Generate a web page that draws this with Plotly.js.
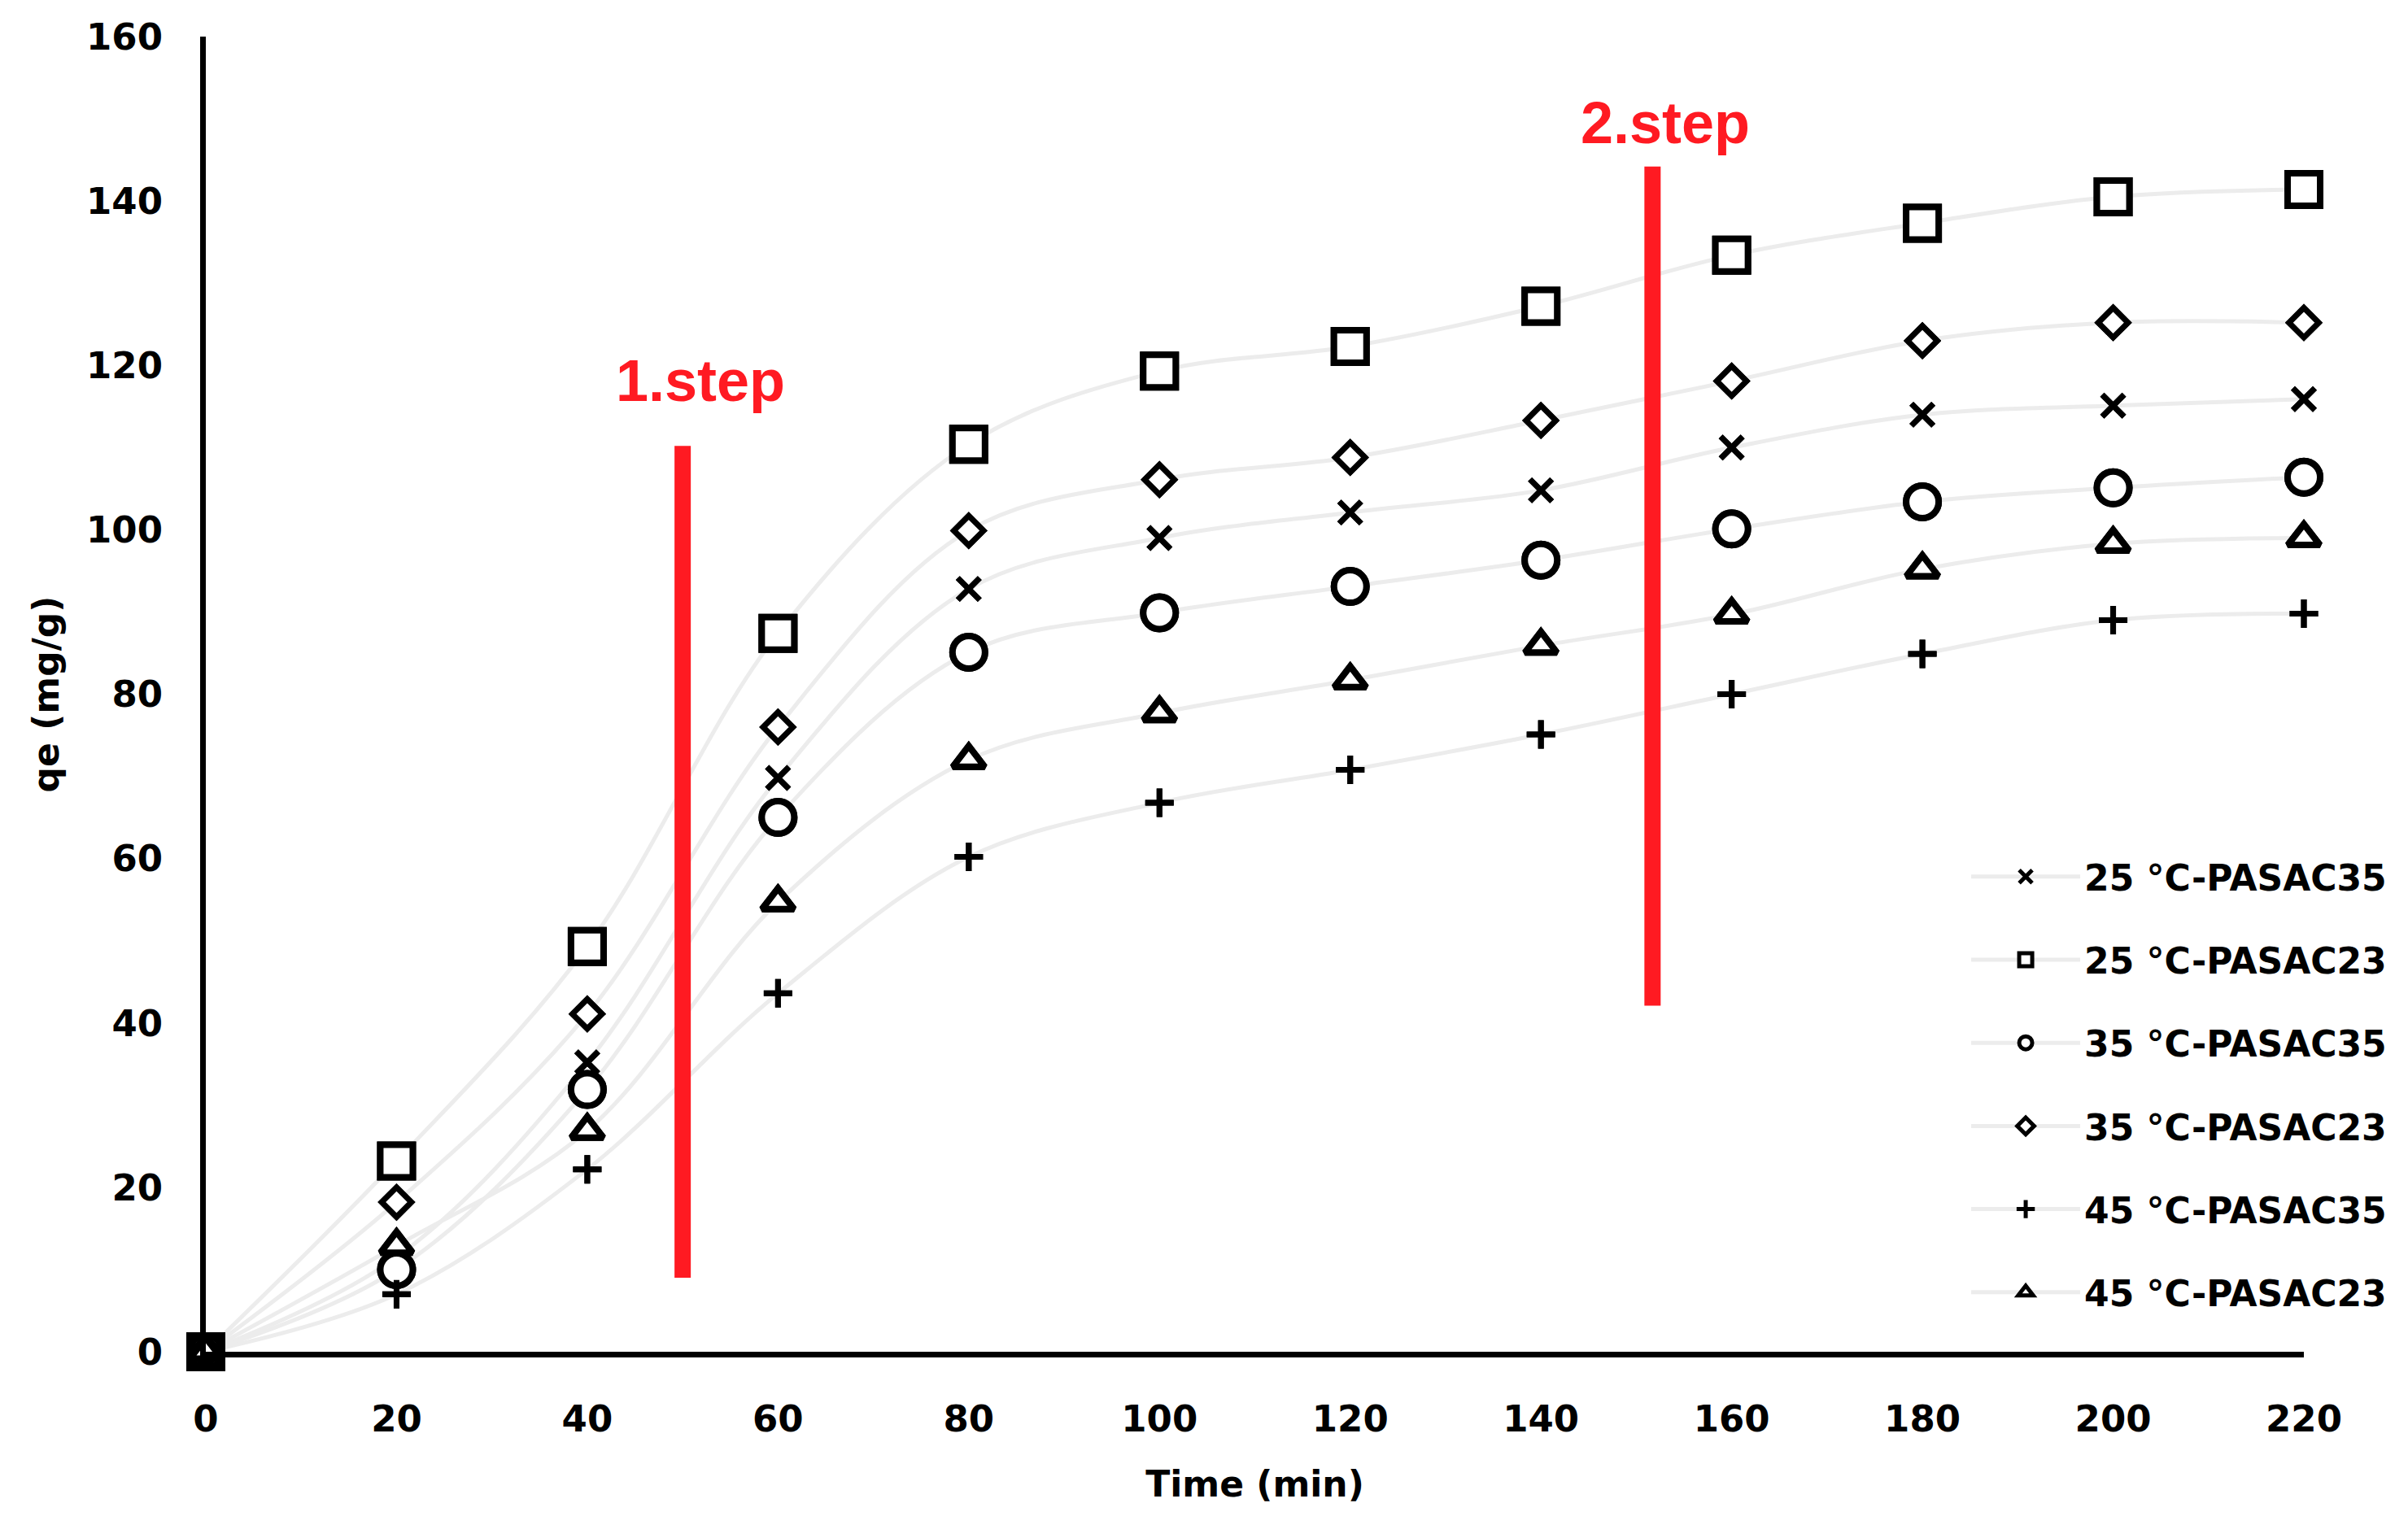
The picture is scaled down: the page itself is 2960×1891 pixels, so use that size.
<!DOCTYPE html>
<html>
<head>
<meta charset="utf-8">
<script src="https://cdn.plot.ly/plotly-3.0.1.min.js"></script>
<style>html,body{margin:0;padding:0;background:#fff;}</style>
</head>
<body>
<div id="chart" style="width:2960px;height:1891px;"></div>
<script>
// ---- data ----
const timeMin = [0, 20, 40, 60, 80, 100, 120, 140, 160, 180, 200, 220];

const q25_PASAC35 = [0, 11.5, 35.2, 69.8, 92.8, 99.0, 102.1, 104.8, 110.0, 114.0, 115.1, 115.9];
const q25_PASAC23 = [0, 23.2, 49.3, 87.4, 110.4, 119.3, 122.3, 127.2, 133.4, 137.3, 140.5, 141.4];
const q35_PASAC35 = [0, 10.0, 31.9, 65.0, 85.1, 89.9, 93.1, 96.3, 100.1, 103.4, 105.1, 106.4];
const q35_PASAC23 = [0, 18.2, 41.1, 76.0, 99.9, 106.1, 108.8, 113.3, 118.1, 123.0, 125.2, 125.2];
const q45_PASAC35 = [0, 7.0, 22.2, 43.6, 60.2, 66.8, 70.8, 75.1, 80.0, 84.9, 89.0, 89.8];
const q45_PASAC23 = [0, 12.9, 26.9, 54.7, 72.0, 77.7, 81.7, 85.9, 89.7, 95.2, 98.3, 99.0];

const seriesNames = ["25 °C-PASAC35", "25 °C-PASAC23", "35 °C-PASAC35", "35 °C-PASAC23", "45 °C-PASAC35", "45 °C-PASAC23"];
const seriesValues = [q25_PASAC35, q25_PASAC23, q35_PASAC35, q35_PASAC23, q45_PASAC35, q45_PASAC23];

const xTickVals = [0, 20, 40, 60, 80, 100, 120, 140, 160, 180, 200, 220];
const yTickVals = [0, 20, 40, 60, 80, 100, 120, 140, 160];

// step markers (red bars) and their labels, in data units
const stepLabels = ["1.step", "2.step"];
const stepTime = [50, 151.7];
const stepLow = [9.0, 42.1];
const stepHigh = [110.2, 144.2];
const stepLabelTime = [51.9, 153.0];
const stepLabelQ = [118.1, 149.5];

// ---- styling ----
const symbols = [
  {symbol: "x-thin", size: 27, lw: 7},
  {symbol: "square", size: 40, lw: 8},
  {symbol: "circle", size: 40, lw: 8},
  {symbol: "diamond", size: 28, lw: 7},
  {symbol: "cross-thin", size: 25, lw: 7},
  {symbol: "triangle-up", size: 34, lw: 8}
];
const tickFont = {family: "DejaVu Sans", size: 45, color: "#000", weight: "bold"};
const red = "#ff1a22";

const traces = [];
seriesValues.forEach((vals, i) => {
  traces.push({
    x: timeMin, y: vals, name: seriesNames[i], legendgroup: "g" + i,
    type: "scatter", mode: "lines+markers", cliponaxis: false,
    line: {shape: "spline", smoothing: 1, color: "#ececec", width: 5},
    marker: {symbol: symbols[i].symbol, size: symbols[i].size, color: "#ffffff",
             line: {color: "#000000", width: symbols[i].lw}}
  });
});
// markers on top of every curve
seriesValues.forEach((vals, i) => {
  traces.push({
    x: timeMin, y: vals, name: seriesNames[i], showlegend: false, hoverinfo: "skip",
    type: "scatter", mode: "markers", cliponaxis: false,
    marker: {symbol: symbols[i].symbol, size: symbols[i].size, color: "#ffffff",
             line: {color: "#000000", width: symbols[i].lw}}
  });
});

const shapes = stepTime.map((t, i) => ({
  type: "line", xref: "x", yref: "y", x0: t, x1: t, y0: stepLow[i], y1: stepHigh[i],
  line: {color: red, width: 20}, layer: "above"
}));

const annotations = stepLabels.map((txt, i) => ({
  text: txt, xref: "x", yref: "y", x: stepLabelTime[i], y: stepLabelQ[i],
  showarrow: false, xanchor: "center", yanchor: "middle",
  font: {family: "Liberation Sans", size: 72, color: red, weight: "bold"}
}));

const layout = {
  width: 2960, height: 1891,
  paper_bgcolor: "#ffffff", plot_bgcolor: "#ffffff",
  margin: {l: 253, r: 128, t: 45, b: 229, pad: 0},
  showlegend: true,
  legend: {
    x: 0.8395, y: 0.383, xanchor: "left", yanchor: "top",
    bgcolor: "rgba(0,0,0,0)", borderwidth: 0,
    font: {family: "DejaVu Sans", size: 44, color: "#000", weight: "bold"},
    itemwidth: 134, tracegroupgap: 42, traceorder: "grouped"
  },
  xaxis: {
    range: [0, 220], tickvals: xTickVals, ticktext: xTickVals.map(String),
    showgrid: false, zeroline: false, showline: true, linecolor: "#000", linewidth: 7,
    ticks: "", tickfont: tickFont, ticklabelstandoff: 37,
    title: {text: "Time (min)", font: {family: "DejaVu Sans", size: 44, color: "#000", weight: "bold"}, standoff: 42}
  },
  yaxis: {
    range: [0, 160], tickvals: yTickVals, ticktext: yTickVals.map(String),
    showgrid: false, zeroline: false, showline: true, linecolor: "#000", linewidth: 7,
    ticks: "", tickfont: tickFont, ticklabelstandoff: 37,
    title: {text: "qe (mg/g)", font: {family: "DejaVu Sans", size: 44, color: "#000", weight: "bold"}, standoff: 22}
  },
  shapes: shapes,
  annotations: annotations
};

Plotly.newPlot("chart", traces, layout, {displayModeBar: false, responsive: false});
</script>
</body>
</html>
